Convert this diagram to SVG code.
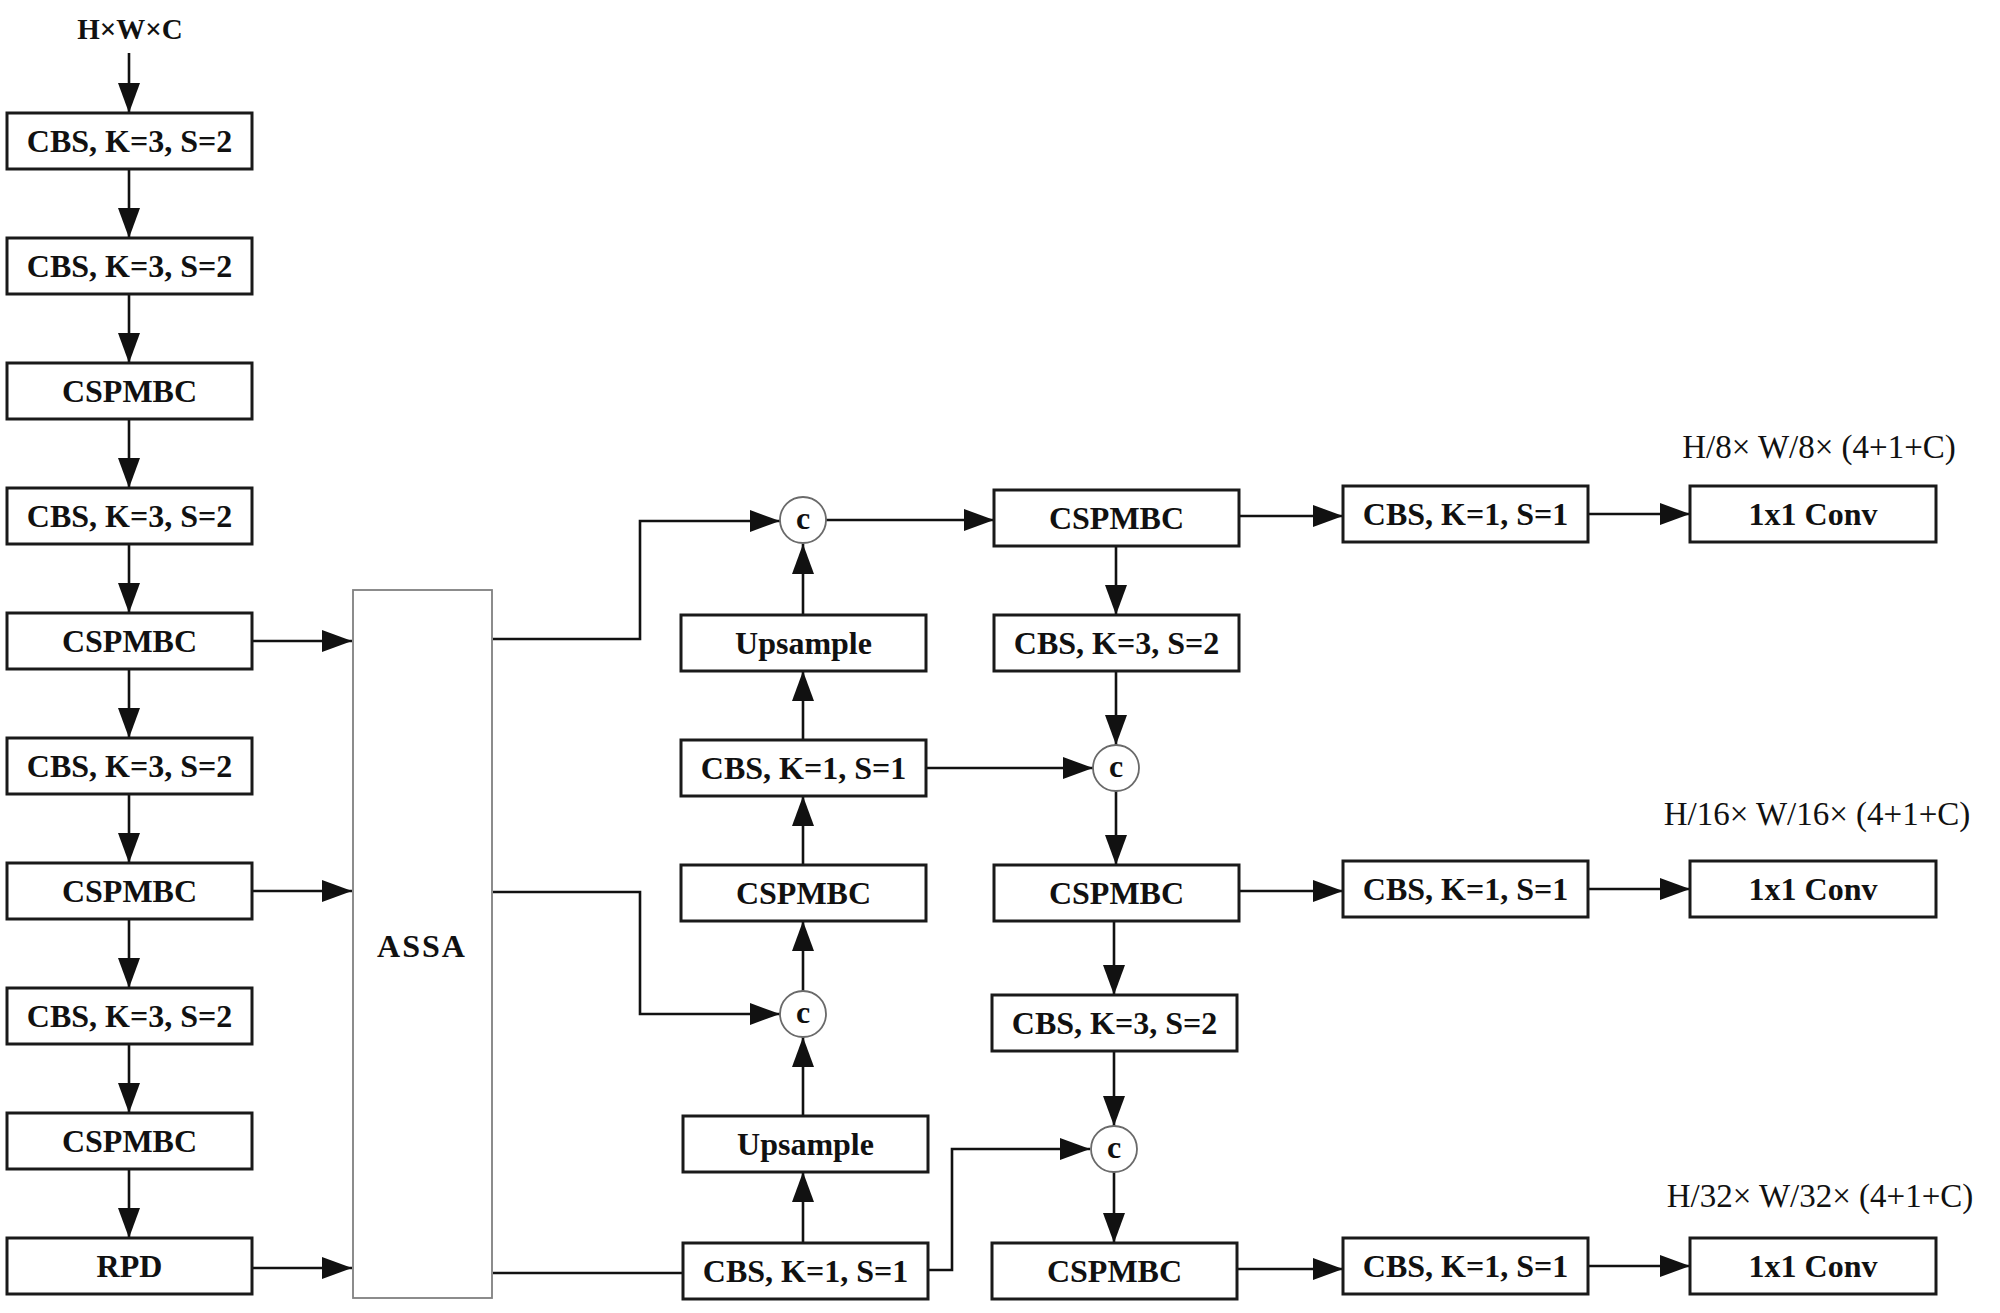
<svg xmlns="http://www.w3.org/2000/svg" width="2000" height="1313" viewBox="0 0 2000 1313">
<style>
.box{fill:#fff;stroke:#1a1a1a;stroke-width:3}
.assa{fill:#fff;stroke:#808080;stroke-width:1.8}
.cat{fill:#fff;stroke:#6a6a6a;stroke-width:1.8}
.t{font-family:"Liberation Serif","Times New Roman",serif;font-weight:bold;font-size:32px;fill:#111;text-anchor:middle;dominant-baseline:central}
.lbl{font-family:"Liberation Serif","Times New Roman",serif;font-weight:bold;font-size:29px;fill:#111;text-anchor:middle}
.out{font-family:"Liberation Serif","Times New Roman",serif;font-weight:normal;font-size:33px;fill:#111;text-anchor:middle}
.ln{fill:none;stroke:#111;stroke-width:2.6}
</style>
<defs>
<marker id="ah" markerUnits="userSpaceOnUse" markerWidth="30" markerHeight="22" refX="30" refY="11" orient="auto">
<path d="M0,0 L30,11 L0,22 z" fill="#111"/>
</marker>
</defs>
<rect width="2000" height="1313" fill="#fff"/>
<text class="lbl" x="130" y="39">H×W×C</text>
<text class="out" x="1819" y="458">H/8× W/8× (4+1+C)</text>
<text class="out" x="1817" y="825">H/16× W/16× (4+1+C)</text>
<text class="out" x="1820" y="1207">H/32× W/32× (4+1+C)</text>
<g id="connectors">
<path class="ln" marker-end="url(#ah)" d="M129,53 V113"/>
<path class="ln" marker-end="url(#ah)" d="M129,169 V238"/>
<path class="ln" marker-end="url(#ah)" d="M129,294 V363"/>
<path class="ln" marker-end="url(#ah)" d="M129,419 V488"/>
<path class="ln" marker-end="url(#ah)" d="M129,544 V613"/>
<path class="ln" marker-end="url(#ah)" d="M129,669 V738"/>
<path class="ln" marker-end="url(#ah)" d="M129,794 V863"/>
<path class="ln" marker-end="url(#ah)" d="M129,919 V988"/>
<path class="ln" marker-end="url(#ah)" d="M129,1044 V1113"/>
<path class="ln" marker-end="url(#ah)" d="M129,1169 V1238"/>
<path class="ln" marker-end="url(#ah)" d="M252,641 H352"/>
<path class="ln" marker-end="url(#ah)" d="M252,891 H352"/>
<path class="ln" marker-end="url(#ah)" d="M252,1268 H352"/>
<path class="ln" marker-end="url(#ah)" d="M493,639 H640 V521 H780"/>
<path class="ln" marker-end="url(#ah)" d="M493,892 H640 V1014 H780"/>
<path class="ln" d="M493,1273 H683"/>
<path class="ln" marker-end="url(#ah)" d="M928,1270 H952 V1149 H1090"/>
<path class="ln" marker-end="url(#ah)" d="M803,1243 V1172"/>
<path class="ln" marker-end="url(#ah)" d="M803,1116 V1037"/>
<path class="ln" marker-end="url(#ah)" d="M803,991 V921"/>
<path class="ln" marker-end="url(#ah)" d="M803,865 V796"/>
<path class="ln" marker-end="url(#ah)" d="M803,740 V671"/>
<path class="ln" marker-end="url(#ah)" d="M803,615 V544"/>
<path class="ln" marker-end="url(#ah)" d="M826,520 H994"/>
<path class="ln" marker-end="url(#ah)" d="M926,768 H1093"/>
<path class="ln" marker-end="url(#ah)" d="M1116,546 V615"/>
<path class="ln" marker-end="url(#ah)" d="M1116,671 V745"/>
<path class="ln" marker-end="url(#ah)" d="M1116,791 V865"/>
<path class="ln" marker-end="url(#ah)" d="M1114,921 V995"/>
<path class="ln" marker-end="url(#ah)" d="M1114,1051 V1126"/>
<path class="ln" marker-end="url(#ah)" d="M1114,1172 V1243"/>
<path class="ln" marker-end="url(#ah)" d="M1239,516 H1343"/>
<path class="ln" marker-end="url(#ah)" d="M1239,891 H1343"/>
<path class="ln" marker-end="url(#ah)" d="M1236,1269 H1343"/>
<path class="ln" marker-end="url(#ah)" d="M1588,514 H1690"/>
<path class="ln" marker-end="url(#ah)" d="M1588,889 H1690"/>
<path class="ln" marker-end="url(#ah)" d="M1588,1266 H1690"/>
</g>
<g id="b1"><rect class="box" x="7" y="113" width="245" height="56"/><text class="t" x="129.5" y="141">CBS, K=3, S=2</text></g>
<g id="b2"><rect class="box" x="7" y="238" width="245" height="56"/><text class="t" x="129.5" y="266">CBS, K=3, S=2</text></g>
<g id="b3"><rect class="box" x="7" y="363" width="245" height="56"/><text class="t" x="129.5" y="391">CSPMBC</text></g>
<g id="b4"><rect class="box" x="7" y="488" width="245" height="56"/><text class="t" x="129.5" y="516">CBS, K=3, S=2</text></g>
<g id="b5"><rect class="box" x="7" y="613" width="245" height="56"/><text class="t" x="129.5" y="641">CSPMBC</text></g>
<g id="b6"><rect class="box" x="7" y="738" width="245" height="56"/><text class="t" x="129.5" y="766">CBS, K=3, S=2</text></g>
<g id="b7"><rect class="box" x="7" y="863" width="245" height="56"/><text class="t" x="129.5" y="891">CSPMBC</text></g>
<g id="b8"><rect class="box" x="7" y="988" width="245" height="56"/><text class="t" x="129.5" y="1016">CBS, K=3, S=2</text></g>
<g id="b9"><rect class="box" x="7" y="1113" width="245" height="56"/><text class="t" x="129.5" y="1141">CSPMBC</text></g>
<g id="b10"><rect class="box" x="7" y="1238" width="245" height="56"/><text class="t" x="129.5" y="1266">RPD</text></g>
<g id="assa"><rect class="assa" x="353" y="590" width="139" height="708"/><text class="t" x="422" y="946" style="letter-spacing:2px">ASSA</text></g>
<g id="c1"><circle class="cat" cx="803" cy="520" r="23"/><text class="t" x="803" y="518">c</text></g>
<g id="m1"><rect class="box" x="681" y="615" width="245" height="56"/><text class="t" x="803.5" y="643">Upsample</text></g>
<g id="m2"><rect class="box" x="681" y="740" width="245" height="56"/><text class="t" x="803.5" y="768">CBS, K=1, S=1</text></g>
<g id="m3"><rect class="box" x="681" y="865" width="245" height="56"/><text class="t" x="803.5" y="893">CSPMBC</text></g>
<g id="c2"><circle class="cat" cx="803" cy="1014" r="23"/><text class="t" x="803" y="1012">c</text></g>
<g id="m4"><rect class="box" x="683" y="1116" width="245" height="56"/><text class="t" x="805.5" y="1144">Upsample</text></g>
<g id="m5"><rect class="box" x="683" y="1243" width="245" height="56"/><text class="t" x="805.5" y="1271">CBS, K=1, S=1</text></g>
<g id="r1"><rect class="box" x="994" y="490" width="245" height="56"/><text class="t" x="1116.5" y="518">CSPMBC</text></g>
<g id="r2"><rect class="box" x="994" y="615" width="245" height="56"/><text class="t" x="1116.5" y="643">CBS, K=3, S=2</text></g>
<g id="c3"><circle class="cat" cx="1116" cy="768" r="23"/><text class="t" x="1116" y="766">c</text></g>
<g id="r3"><rect class="box" x="994" y="865" width="245" height="56"/><text class="t" x="1116.5" y="893">CSPMBC</text></g>
<g id="r4"><rect class="box" x="992" y="995" width="245" height="56"/><text class="t" x="1114.5" y="1023">CBS, K=3, S=2</text></g>
<g id="c4"><circle class="cat" cx="1114" cy="1149" r="23"/><text class="t" x="1114" y="1147">c</text></g>
<g id="r5"><rect class="box" x="992" y="1243" width="245" height="56"/><text class="t" x="1114.5" y="1271">CSPMBC</text></g>
<g id="h1"><rect class="box" x="1343" y="486" width="245" height="56"/><text class="t" x="1465.5" y="514">CBS, K=1, S=1</text></g>
<g id="h2"><rect class="box" x="1343" y="861" width="245" height="56"/><text class="t" x="1465.5" y="889">CBS, K=1, S=1</text></g>
<g id="h3"><rect class="box" x="1343" y="1238" width="245" height="56"/><text class="t" x="1465.5" y="1266">CBS, K=1, S=1</text></g>
<g id="o1"><rect class="box" x="1690" y="486" width="246" height="56"/><text class="t" x="1813" y="514">1x1 Conv</text></g>
<g id="o2"><rect class="box" x="1690" y="861" width="246" height="56"/><text class="t" x="1813" y="889">1x1 Conv</text></g>
<g id="o3"><rect class="box" x="1690" y="1238" width="246" height="56"/><text class="t" x="1813" y="1266">1x1 Conv</text></g>
</svg>
